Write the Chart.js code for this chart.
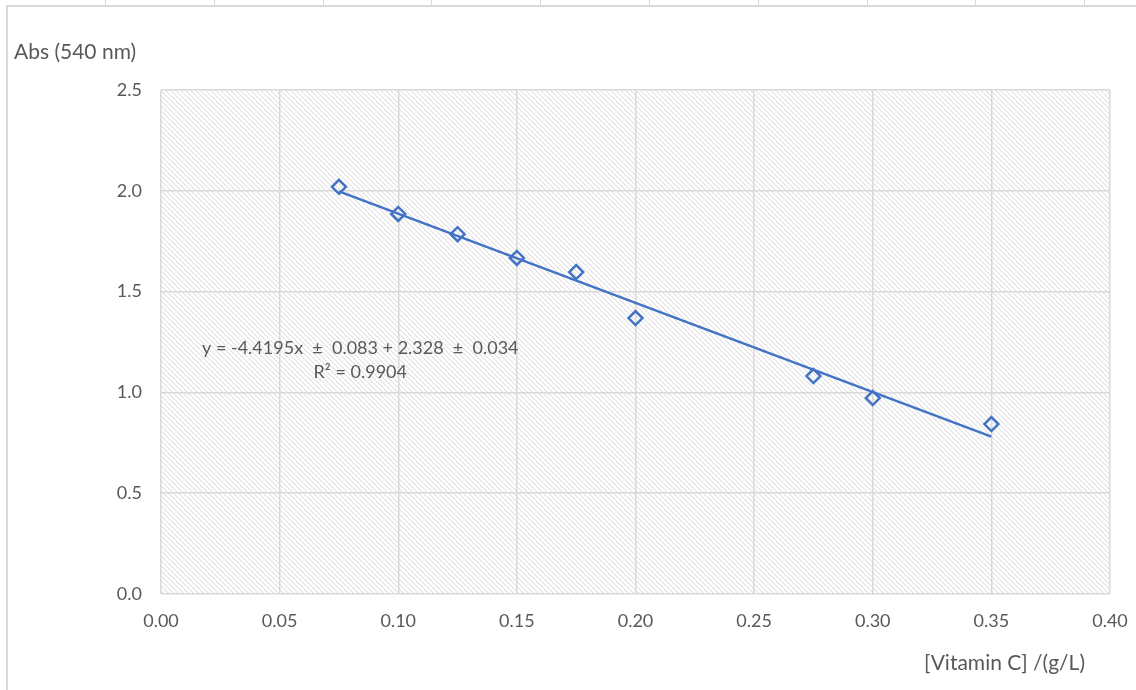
<!DOCTYPE html>
<html>
<head>
<meta charset="utf-8">
<script src="https://cdn.jsdelivr.net/npm/chart.js@4/dist/chart.umd.min.js"></script>
<style>
  html, body { margin: 0; padding: 0; background: #fff; }
  #wrap { width: 1136px; height: 690px; position: relative; }
</style>
</head>
<body>
<div id="wrap"><canvas id="grafico" width="1136" height="690"></canvas></div>
<script>
// dados
const concentracao = [0.075, 0.100, 0.125, 0.150, 0.175, 0.200, 0.275, 0.300, 0.350];
const absorbancia = [2.02, 1.885, 1.785, 1.667, 1.597, 1.369, 1.081, 0.972, 0.843];

// linha de tendência (y = -4.4195x + 2.328)
const tendenciaX = [0.075, 0.350];
const tendenciaY = [1.997, 0.781];

const equacao = ['y = -4.4195x  \u00b1  0.083 + 2.328  \u00b1  0.034', 'R\u00b2 = 0.9904'];
const tituloY = 'Abs (540 nm)';
const tituloX = '[Vitamin C] /(g/L)';

const azul = '#4472C4';
const cinzaTexto = '#595959';
const cinzaGrade = '#d9d9d9';
const fonte = 'Lato, "Open Sans", sans-serif';

// padrão hachurado do fundo
function criaPadrao(ctx) {
  const n = 5;
  const tile = document.createElement('canvas');
  tile.width = n;
  tile.height = n;
  const t = tile.getContext('2d');
  t.fillStyle = '#ffffff';
  t.fillRect(0, 0, n, n);
  for (let i = 0; i < n; i++) {
    t.fillStyle = '#e2e2e2';
    t.fillRect(i, i, 1, 1);
    t.fillStyle = '#f1f1f1';
    t.fillRect((i + 1) % n, i, 1, 1);
  }
  return ctx.createPattern(tile, 'repeat');
}

const fundoPlugin = {
  id: 'fundo',
  beforeDraw(chart) {
    const ctx = chart.ctx;
    const a = chart.chartArea;
    ctx.save();
    // moldura da planilha
    ctx.strokeStyle = cinzaGrade;
    ctx.lineWidth = 2;
    ctx.beginPath();
    ctx.moveTo(6, 6);
    ctx.lineTo(chart.width, 6);
    ctx.moveTo(7, 6);
    ctx.lineTo(7, chart.height);
    ctx.stroke();
    ctx.lineWidth = 1;
    ctx.beginPath();
    for (let x = 105; x < chart.width; x += 108.8) {
      ctx.moveTo(Math.round(x) + 0.5, 0);
      ctx.lineTo(Math.round(x) + 0.5, 5);
    }
    ctx.stroke();
    // área do gráfico
    ctx.fillStyle = criaPadrao(ctx);
    ctx.fillRect(a.left, a.top, a.right - a.left, a.bottom - a.top);
    ctx.restore();
  }
};

const textoPlugin = {
  id: 'textos',
  afterDraw(chart) {
    const ctx = chart.ctx;
    const a = chart.chartArea;
    const xs = chart.scales.x;
    const ys = chart.scales.y;
    ctx.save();
    ctx.fillStyle = cinzaTexto;
    ctx.textBaseline = 'middle';
    ctx.font = '21px ' + fonte;
    ctx.textAlign = 'left';
    ctx.fillText(tituloY, 14, 52);
    ctx.textAlign = 'right';
    ctx.fillText(tituloX, a.right - 25, 663);
    // equação da reta
    ctx.font = '18px ' + fonte;
    ctx.textAlign = 'center';
    const cx = xs.getPixelForValue(0.084);
    const cy = ys.getPixelForValue(1.22);
    ctx.fillText(equacao[0], cx, cy);
    ctx.fillText(equacao[1], cx, cy + 24);
    ctx.restore();
  }
};

const ctx = document.getElementById('grafico').getContext('2d');
const chart = new Chart(ctx, {
  type: 'scatter',
  data: {
    datasets: [
      {
        label: 'Tendência',
        type: 'line',
        data: tendenciaX.map((x, i) => ({x: x, y: tendenciaY[i]})),
        borderColor: azul,
        borderWidth: 2.5,
        pointRadius: 0,
        fill: false
      },
      {
        label: 'Abs',
        data: concentracao.map((x, i) => ({x: x, y: absorbancia[i]})),
        pointStyle: 'rectRot',
        pointRadius: 7,
        pointBorderWidth: 2.5,
        borderColor: azul,
        backgroundColor: 'rgba(255,255,255,0)'
      }
    ]
  },
  options: {
    responsive: false,
    animation: false,
    layout: {
      padding: {left: 0, right: 26, top: 90, bottom: 0}
    },
    scales: {
      x: {
        type: 'linear',
        min: 0,
        max: 0.4,
        afterFit(scale) {
          scale.height = 96;
          scale.paddingLeft = 0;
          scale.paddingRight = 0;
        },
        ticks: {
          stepSize: 0.05,
          padding: 16,
          color: cinzaTexto,
          font: {size: 18, family: fonte},
          callback: v => v.toFixed(2)
        },
        grid: {color: cinzaGrade, lineWidth: 1.5, drawTicks: false},
        border: {display: false}
      },
      y: {
        min: 0,
        max: 2.5,
        afterFit(scale) {
          scale.width = 161;
          scale.paddingTop = 0;
          scale.paddingBottom = 0;
        },
        ticks: {
          stepSize: 0.5,
          padding: 19,
          color: cinzaTexto,
          font: {size: 18, family: fonte},
          callback: v => v.toFixed(1)
        },
        grid: {color: cinzaGrade, lineWidth: 1.5, drawTicks: false},
        border: {display: false}
      }
    },
    plugins: {
      legend: {display: false},
      tooltip: {enabled: false}
    }
  },
  plugins: [fundoPlugin, textoPlugin]
});
</script>
</body>
</html>
